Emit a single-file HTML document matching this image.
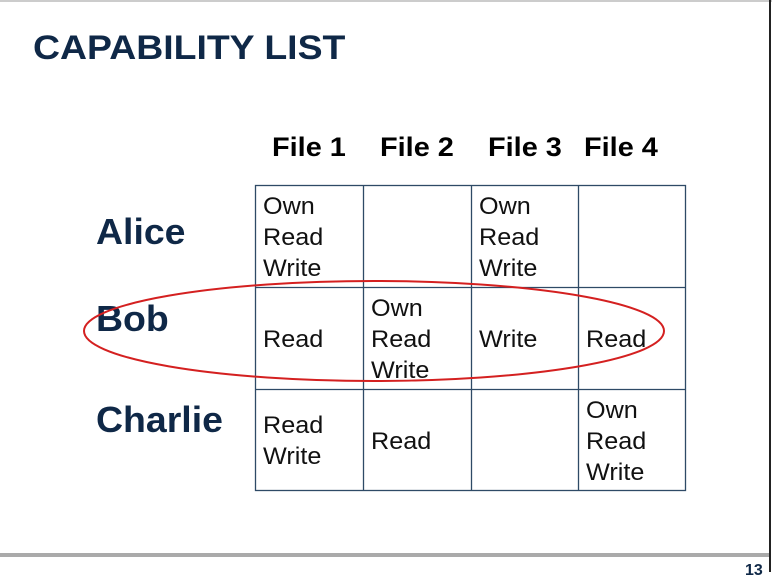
<!DOCTYPE html>
<html><head><style>
body{margin:0;width:772px;height:572px;background:#fff;position:relative;overflow:hidden;font-family:"Liberation Sans",sans-serif}
.a{position:absolute;white-space:nowrap;transform-origin:0 0}
.t{left:33px;top:29px;font-size:34px;font-weight:bold;color:#0f2847;transform:scaleX(1.1)}
.h{top:132px;font-size:27px;font-weight:bold;color:#000;transform:scaleX(1.07)}
.r{left:96px;font-size:36px;font-weight:bold;color:#0f2847;transform:scaleX(1.04)}
.c{font-size:24px;line-height:31px;color:#111;transform:scaleX(1.05)}
</style></head><body>
<div class="a" style="left:0;top:0;width:772px;height:2px;background:#ccc"></div>
<div class="a" style="left:0;top:553px;width:770px;height:4px;background:#aaa"></div>
<div class="a" style="left:769px;top:0;width:2px;height:572px;background:#222"></div>
<div class="a" style="left:745px;top:562px;font-size:16px;font-weight:bold;color:#0f2847">13</div>
<div class="a t">CAPABILITY LIST</div>
<div class="a h" style="left:272px">File 1</div>
<div class="a h" style="left:380px">File 2</div>
<div class="a h" style="left:488px">File 3</div>
<div class="a h" style="left:584px">File 4</div>
<div class="a r" style="top:211px">Alice</div>
<div class="a r" style="top:298px">Bob</div>
<div class="a r" style="top:399px">Charlie</div>
<svg class="a" style="left:0;top:0" width="772" height="572">
<g stroke="#2e4a66" stroke-width="1.3" fill="none">
<rect x="255.5" y="185.5" width="430" height="305"/>
<line x1="363.5" y1="185" x2="363.5" y2="491"/>
<line x1="471.5" y1="185" x2="471.5" y2="491"/>
<line x1="578.5" y1="185" x2="578.5" y2="491"/>
<line x1="255" y1="287.5" x2="686" y2="287.5"/>
<line x1="255" y1="389.5" x2="686" y2="389.5"/>
</g>
<ellipse cx="374" cy="331" rx="290" ry="50" fill="none" stroke="#d42020" stroke-width="2"/>
</svg>
<div class="a c" style="left:263px;top:191px">Own<br>Read<br>Write</div>
<div class="a c" style="left:479px;top:191px">Own<br>Read<br>Write</div>
<div class="a c" style="left:263px;top:324px">Read</div>
<div class="a c" style="left:371px;top:293px">Own<br>Read<br>Write</div>
<div class="a c" style="left:479px;top:324px">Write</div>
<div class="a c" style="left:586px;top:324px">Read</div>
<div class="a c" style="left:263px;top:410px">Read<br>Write</div>
<div class="a c" style="left:371px;top:426px">Read</div>
<div class="a c" style="left:586px;top:395px">Own<br>Read<br>Write</div>
</body></html>
